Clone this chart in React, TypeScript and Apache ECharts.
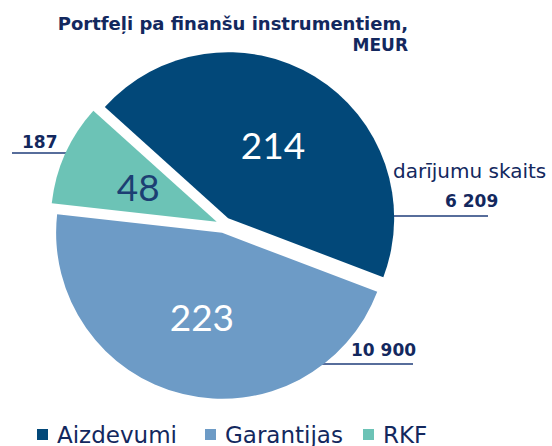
import React, { useEffect, useRef } from "react";
import * as echarts from "echarts";

const categories = ["Aizdevumi", "Garantijas", "RKF"];
const portfolioValues = [214, 223, 48];
const dealCounts = ["6 209", "10 900", "187"];
const colors = ["#024879", "#6d9bc6", "#6cc3b6"];
const titleLines = ["Portfeļi pa finanšu instrumentiem,", "MEUR"];
const navy = "#13285e";
const WIDE = "'DejaVu Sans', sans-serif";
const FONT = "Lato, 'Open Sans', sans-serif";
const legendLefts = [32, 200, 358];

export default function App() {
  const ref = useRef<HTMLDivElement>(null);
  useEffect(() => {
    document.body.style.margin = "0";
    const chart = echarts.init(ref.current!, undefined, { renderer: "svg" });
    chart.setOption({
      animation: false,
      color: colors,
      legend: categories.map((name, i) => ({
        top: 418,
        left: legendLefts[i],
        itemWidth: 11,
        itemHeight: 11,
        icon: "rect",
        textStyle: { fontFamily: WIDE, fontSize: 23, color: navy, padding: [0, 0, 0, 4] },
        data: [name],
      })),
      series: [
        {
          type: "pie",
          center: [224, 225],
          radius: [0, 166],
          startAngle: 138,
          clockwise: true,
          selectedMode: "multiple",
          selectedOffset: 8,
          avoidLabelOverlap: false,
          label: {
            show: true,
            position: "inner",
            fontFamily: FONT,
            fontSize: 37,
            color: "#ffffff",
            formatter: "{c}",
          },
          labelLine: { show: false },
          emphasis: { disabled: true },
          itemStyle: { borderWidth: 0 },
          data: categories.map((name, i) => ({
            name,
            value: portfolioValues[i],
            selected: true,
            label: i === 2 ? { color: "#1c3f73" } : undefined,
          })),
        },
      ],
      graphic: [
        { type: "text", x: 408, y: 23, style: { text: titleLines[0], font: `bold 18px ${WIDE}`, fill: navy, align: "right", verticalAlign: "middle" } },
        { type: "text", x: 408, y: 45, style: { text: titleLines[1], font: `bold 17px ${WIDE}`, fill: navy, align: "right", verticalAlign: "middle" } },
        { type: "text", x: 22, y: 142, style: { text: dealCounts[2], font: `bold 17px ${WIDE}`, fill: navy, verticalAlign: "middle" } },
        { type: "line", shape: { x1: 12, y1: 153, x2: 107, y2: 153 }, style: { stroke: "#1f3d7a", lineWidth: 1.5 } },
        { type: "text", x: 393, y: 171, style: { text: "darījumu skaits", font: `20px ${WIDE}`, fill: navy, verticalAlign: "middle" } },
        { type: "text", x: 445, y: 201, style: { text: dealCounts[0], font: `bold 17px ${WIDE}`, fill: navy, verticalAlign: "middle" } },
        { type: "line", shape: { x1: 368, y1: 216, x2: 488, y2: 216 }, style: { stroke: "#1f3d7a", lineWidth: 1.5 } },
        { type: "text", x: 351, y: 350, style: { text: dealCounts[1], font: `bold 17px ${WIDE}`, fill: navy, verticalAlign: "middle" } },
        { type: "line", shape: { x1: 293, y1: 364, x2: 413, y2: 364 }, style: { stroke: "#1f3d7a", lineWidth: 1.5 } },
      ],
    });
    return () => chart.dispose();
  }, []);
  return <div ref={ref} style={{ width: 552, height: 446 }} />;
}
